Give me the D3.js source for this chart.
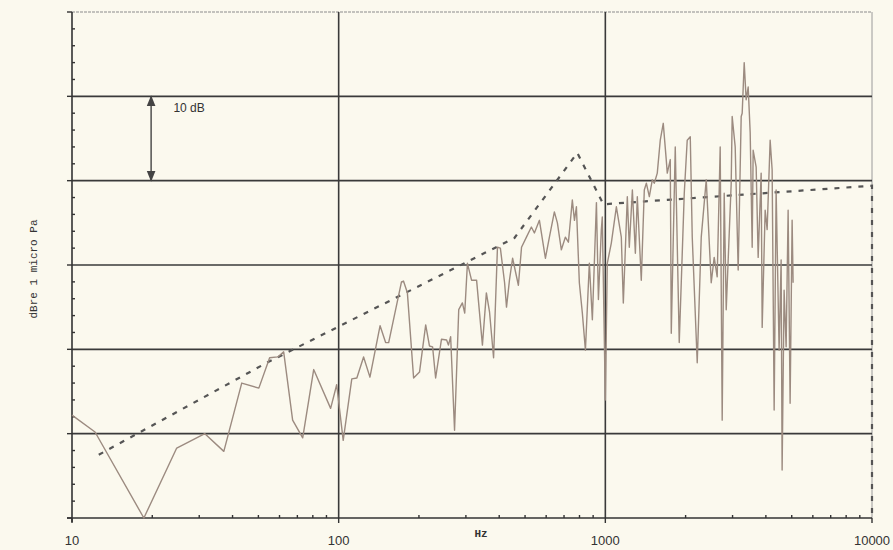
<!DOCTYPE html>
<html>
<head>
<meta charset="utf-8">
<script src="https://cdn.jsdelivr.net/npm/d3@7"></script>
<style>
  html, body { margin: 0; padding: 0; background: #fbf9ee; }
  svg { display: block; }
  .tick-label { font-family: Arial, "Liberation Sans", sans-serif; font-size: 13px; fill: #333; }
  .mono { font-family: "Courier New", "Liberation Mono", monospace; font-size: 11px; fill: #333; }
</style>
</head>
<body>
<div id="chart"></div>
<script>
  'use strict';

  /* measured spectrum: frequency (Hz) and level (dB, relative to chart floor) */
  var spectrumHz = [
    10, 12.2, 18.6, 24.7, 31.5, 37.1, 43.3, 50.2, 55.1, 59.1, 62.2, 67.2, 73.3, 80.6, 93.3, 98.3,
    104, 112, 117, 124, 131, 143, 150, 154, 172, 175, 181, 191, 201, 212, 219, 225, 231, 243, 254,
    258, 263, 272, 282, 291, 297, 304, 315, 329, 346, 358, 368, 381, 394, 404, 419, 426, 437, 449,
    472, 485, 506, 528, 542, 566, 596, 617, 644, 661, 684, 708, 727, 752, 766, 779, 799, 820, 842,
    871, 894, 926, 942, 966, 974, 1000, 1017, 1053, 1100, 1148, 1168, 1209, 1230, 1263, 1296, 1318,
    1364, 1400, 1425, 1462, 1500, 1526, 1566, 1607, 1649, 1692, 1707, 1752, 1767, 1829, 1893, 1977,
    2028, 2082, 2118, 2211, 2289, 2390, 2495, 2560, 2627, 2696, 2743, 2791, 2840, 2965, 2990, 3069,
    3149, 3232, 3260, 3317, 3374, 3433, 3493, 3554, 3584, 3678, 3742, 3840, 3874, 3975, 4044, 4150,
    4222, 4296, 4370, 4484, 4563, 4602, 4682, 4764, 4847, 4931, 5017, 5060
  ];
  var spectrumDb = [
    12.2, 10.2, 0, 8.3, 10.0, 7.9, 16.0, 15.4, 19.0, 19.1, 19.7, 11.6, 9.5, 17.6, 13.0, 15.8,
    9.2, 16.5, 16.6, 19.1, 16.7, 22.8, 20.8, 20.8, 28.0, 28.1, 26.7, 16.6, 17.3, 22.9, 20.4, 20.3, 16.6, 21.2, 21.1,
    20.5, 21.5, 10.4, 24.7, 25.5, 24.3, 30.2, 28.2, 28.2, 20.5, 26.7, 24.4, 19.0, 32.1, 32.0, 27.9, 25.0, 28.2, 30.8,
    27.6, 32.1, 33.3, 34.5, 33.8, 35.3, 30.8, 33.3, 36.3, 35.0, 31.8, 33.3, 32.7, 37.7, 35.3, 36.9, 27.9, 24.3, 19.9,
    30.2, 23.5, 37.4, 25.9, 34.2, 35.7, 14.0, 30.2, 32.6, 36.9, 33.3, 25.5, 38.1, 32.1, 38.9, 31.4, 38.1,
    28.2, 38.9, 39.7, 38.1, 40.1, 39.7, 40.9, 44.8, 46.8, 42.5, 40.9, 42.5, 21.9, 44.0, 20.8, 38.5,
    44.8, 45.2, 33.3, 18.4, 33.3, 40.1, 27.9, 30.9, 28.6, 44.0, 11.6, 38.5, 24.7, 39.7, 47.6, 44.0,
    29.4, 47.6, 48.0, 54.0, 49.6, 51.1, 45.7, 32.1, 43.6, 41.6, 30.9, 40.9, 22.6, 36.5, 34.2, 44.8,
    41.3, 12.8, 38.9, 19.9, 30.6, 5.7, 27.0, 20.3, 36.5, 13.6, 35.3, 27.9
  ];

  /* reference (dashed) curve */
  var limitHz = [12.6, 53.7, 456, 785, 983, 10000, 10000];
  var limitDb = [7.5, 18.4, 33.2, 43.3, 37.2, 39.4, 0];

  /* axes */
  var xTickValues = [10, 100, 1000, 10000];
  var xTickLabels = ['10', '100', '1000', '10000'];
  var yGridValues = [0, 10, 20, 30, 40, 50, 60];
  var xGridValues = [100, 1000];

  /* 10 dB scale marker */
  var markerHz = 19.8;
  var markerDb = [50, 40];
  var markerText = '10 dB';
  var markerTextHz = 24;
  var markerTextDb = 48.2;

  var xLabel = 'Hz';
  var yLabel = 'dBre 1 micro Pa';

  var width = 893;
  var height = 550;
  var margin = { top: 12, right: 21, bottom: 32, left: 72 };
  var innerW = width - margin.left - margin.right;
  var innerH = height - margin.top - margin.bottom;

  var x = d3.scaleLog().domain([10, 10000]).range([0, innerW]);
  var y = d3.scaleLinear().domain([0, 60]).range([innerH, 0]);

  var svg = d3.select('#chart').append('svg')
    .attr('width', width)
    .attr('height', height);

  svg.append('defs').append('marker')
    .attr('id', 'arrow')
    .attr('viewBox', '0 0 10 10')
    .attr('refX', 9)
    .attr('refY', 5)
    .attr('markerWidth', 8)
    .attr('markerHeight', 8)
    .attr('orient', 'auto-start-reverse')
    .append('path')
    .attr('d', 'M0,1 L10,5 L0,9 Z')
    .attr('fill', '#444');

  var g = svg.append('g')
    .attr('transform', 'translate(' + margin.left + ',' + margin.top + ')');

  /* frame: light top and right border */
  g.append('line')
    .attr('x1', 0).attr('x2', innerW)
    .attr('y1', 0).attr('y2', 0)
    .attr('stroke', '#8c8c8c')
    .attr('stroke-width', 1.2)
    .attr('stroke-dasharray', '3,1');
  g.append('line')
    .attr('x1', innerW).attr('x2', innerW)
    .attr('y1', 0).attr('y2', innerH)
    .attr('stroke', '#9a9a9a')
    .attr('stroke-width', 1);

  /* horizontal grid */
  g.selectAll('.hgrid')
    .data(yGridValues.filter(function (d) { return d > 0 && d < 60; }))
    .enter()
    .append('line')
    .attr('class', 'hgrid')
    .attr('x1', 0).attr('x2', innerW)
    .attr('y1', function (d) { return y(d); })
    .attr('y2', function (d) { return y(d); })
    .attr('stroke', '#3a3a3a')
    .attr('stroke-width', 1.6);

  /* vertical grid */
  g.selectAll('.vgrid')
    .data(xGridValues)
    .enter()
    .append('line')
    .attr('class', 'vgrid')
    .attr('x1', function (d) { return x(d); })
    .attr('x2', function (d) { return x(d); })
    .attr('y1', 0).attr('y2', innerH)
    .attr('stroke', '#3a3a3a')
    .attr('stroke-width', 1.6);

  /* left axis: major ticks outward, minor inward */
  var yMinor = d3.range(0, 61, 2).filter(function (d) { return d % 10 !== 0; });
  var leftAxis = g.append('g');
  leftAxis.append('line')
    .attr('x1', 0).attr('x2', 0)
    .attr('y1', 0).attr('y2', innerH + 4)
    .attr('stroke', '#333')
    .attr('stroke-width', 1.6);
  leftAxis.selectAll('.ymajor')
    .data(yGridValues)
    .enter()
    .append('line')
    .attr('x1', -5).attr('x2', 0)
    .attr('y1', function (d) { return y(d); })
    .attr('y2', function (d) { return y(d); })
    .attr('stroke', '#333')
    .attr('stroke-width', 1.4);
  leftAxis.selectAll('.yminor')
    .data(yMinor)
    .enter()
    .append('line')
    .attr('x1', 0).attr('x2', 3)
    .attr('y1', function (d) { return y(d); })
    .attr('y2', function (d) { return y(d); })
    .attr('stroke', '#333')
    .attr('stroke-width', 1.4);

  /* bottom axis */
  var xMinor = [];
  [10, 100, 1000].forEach(function (dec) {
    for (var k = 2; k <= 9; k++) xMinor.push(dec * k);
  });
  var bottomAxis = g.append('g').attr('transform', 'translate(0,' + innerH + ')');
  bottomAxis.append('line')
    .attr('x1', -5).attr('x2', innerW)
    .attr('y1', 0).attr('y2', 0)
    .attr('stroke', '#333')
    .attr('stroke-width', 1.6);
  bottomAxis.selectAll('.xmajor')
    .data(xTickValues)
    .enter()
    .append('line')
    .attr('x1', function (d) { return x(d); })
    .attr('x2', function (d) { return x(d); })
    .attr('y1', 0).attr('y2', 5)
    .attr('stroke', '#333')
    .attr('stroke-width', 1.4);
  bottomAxis.selectAll('.xminor')
    .data(xMinor)
    .enter()
    .append('line')
    .attr('x1', function (d) { return x(d); })
    .attr('x2', function (d) { return x(d); })
    .attr('y1', 0).attr('y2', -3)
    .attr('stroke', '#333')
    .attr('stroke-width', 1.4);
  bottomAxis.selectAll('.xlabel')
    .data(xTickValues)
    .enter()
    .append('text')
    .attr('class', 'tick-label')
    .attr('x', function (d) { return x(d); })
    .attr('y', 27)
    .attr('text-anchor', 'middle')
    .text(function (d, i) { return xTickLabels[i]; });

  /* dashed reference curve */
  var limitData = limitHz.map(function (f, i) { return { f: f, v: limitDb[i] }; });
  g.append('path')
    .datum(limitData)
    .attr('fill', 'none')
    .attr('stroke', '#555')
    .attr('stroke-width', 2.2)
    .attr('stroke-dasharray', '5,7')
    .attr('d', d3.line()
      .x(function (d) { return x(d.f); })
      .y(function (d) { return y(d.v); }));

  /* measured spectrum */
  var spectrum = spectrumHz.map(function (f, i) { return { f: f, v: spectrumDb[i] }; });
  g.append('path')
    .datum(spectrum)
    .attr('fill', 'none')
    .attr('stroke', '#9c8b80')
    .attr('stroke-width', 1.4)
    .attr('stroke-linejoin', 'round')
    .attr('d', d3.line()
      .x(function (d) { return x(d.f); })
      .y(function (d) { return y(d.v); }));

  /* 10 dB marker */
  g.append('line')
    .attr('x1', x(markerHz)).attr('x2', x(markerHz))
    .attr('y1', y(markerDb[0])).attr('y2', y(markerDb[1]))
    .attr('stroke', '#444')
    .attr('stroke-width', 1.4)
    .attr('marker-start', 'url(#arrow)')
    .attr('marker-end', 'url(#arrow)');
  g.append('text')
    .attr('class', 'tick-label')
    .attr('x', x(markerTextHz))
    .attr('y', y(markerTextDb))
    .style('font-size', '12px')
    .text(markerText);

  /* axis titles */
  svg.append('text')
    .attr('class', 'mono')
    .attr('x', 481)
    .attr('y', 537)
    .attr('text-anchor', 'middle')
    .style('font-weight', 'bold')
    .text(xLabel);
  svg.append('text')
    .attr('class', 'mono')
    .attr('transform', 'translate(37,269) rotate(-90)')
    .attr('text-anchor', 'middle')
    .text(yLabel);
</script>
</body>
</html>
